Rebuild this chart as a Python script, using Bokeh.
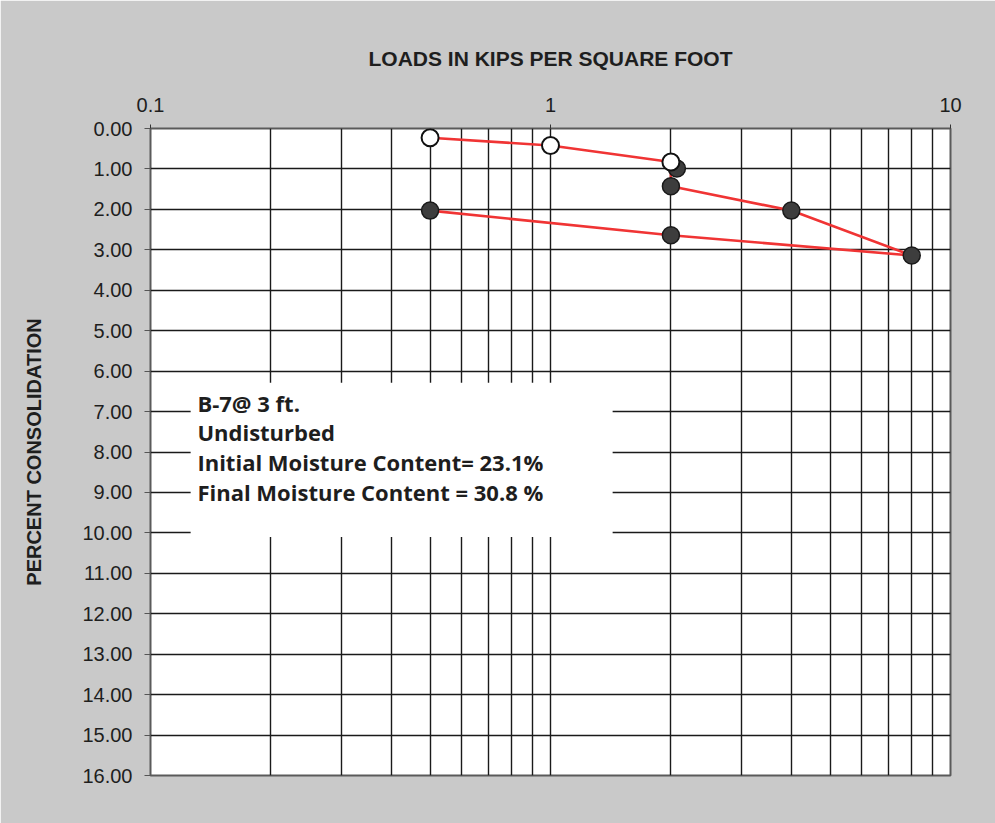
from bokeh.plotting import figure
from bokeh.models import Range1d, FixedTicker, NumeralTickFormatter, BoxAnnotation, Label
from bokeh.embed import file_html
from bokeh.resources import INLINE

# ---- data ----
loads_open = [0.5, 1.0, 2.0]
cons_open = [0.23, 0.42, 0.83]
loads_dark = [2.07, 2.0, 4.0, 8.0, 2.0, 0.5]
cons_dark = [0.99, 1.43, 2.03, 3.14, 2.64, 2.03]
line_loads = loads_open + loads_dark[1:]
line_cons = cons_open + cons_dark[1:]

x_ticks = [0.1, 1, 10]
x_tick_labels = ["0.1", "1", "10"]
x_grid = [0.2, 0.3, 0.4, 0.5, 0.6, 0.7, 0.8, 0.9, 1, 2, 3, 4, 5, 6, 7, 8, 9]
y_ticks = list(range(0, 17))

note_lines = ["B-7@ 3 ft.", "Undisturbed", "Initial Moisture Content= 23.1%", "Final Moisture Content = 30.8 %"]
note_y = [6.78, 7.5, 8.24, 8.99]
note_x = 0.131
box = dict(left=0.126, right=1.43, top=6.29, bottom=10.1)

BG = "#c9c9c9"
TXT = "#1e1e1e"

p = figure(width=995, height=823, x_axis_type="log", x_axis_location="above",
           x_range=Range1d(0.1, 10), y_range=Range1d(16, 0),
           output_backend="svg", toolbar_location=None,
           min_border_left=150, min_border_right=45, min_border_top=128, min_border_bottom=48)
p.background_fill_color = "white"
p.border_fill_color = BG
p.outline_line_color = "#5a5a5a"
p.outline_line_width = 2

# x axis (top)
xa = p.xaxis[0]
xa.ticker = FixedTicker(ticks=x_ticks, minor_ticks=[])
xa.major_label_overrides = {t: l for t, l in zip(x_ticks, x_tick_labels)}
xa.axis_label = "LOADS IN KIPS PER SQUARE FOOT"
xa.axis_label_text_font = "Liberation Sans"
xa.axis_label_text_font_style = "bold"
xa.axis_label_text_font_size = "21px"
xa.axis_label_text_color = TXT
xa.axis_label_standoff = 25
xa.major_label_text_font = "Liberation Sans"
xa.major_label_text_font_size = "20px"
xa.major_label_text_color = TXT
xa.major_label_standoff = 13
xa.major_tick_out = 4
xa.major_tick_in = 0
xa.major_tick_line_color = "#333"
xa.axis_line_color = None

# y axis (left)
ya = p.yaxis[0]
ya.ticker = FixedTicker(ticks=y_ticks, minor_ticks=[])
ya.formatter = NumeralTickFormatter(format="0.00")
ya.axis_label = "PERCENT CONSOLIDATION"
ya.axis_label_text_font = "Liberation Sans"
ya.axis_label_text_font_style = "bold"
ya.axis_label_text_font_size = "20px"
ya.axis_label_text_color = TXT
ya.axis_label_standoff = 34
ya.major_label_text_font = "Liberation Sans"
ya.major_label_text_font_size = "20px"
ya.major_label_text_color = TXT
ya.major_label_standoff = 12
ya.major_tick_out = 6
ya.major_tick_in = 0
ya.major_tick_line_color = "#555"
ya.axis_line_color = None

# grids
p.xgrid.ticker = FixedTicker(ticks=x_grid)
p.xgrid.grid_line_color = "#1a1a1a"
p.xgrid.grid_line_width = 1.4
p.ygrid.grid_line_color = "#1a1a1a"
p.ygrid.grid_line_width = 1.4

# data
p.line(line_loads, line_cons, line_color="#f03434", line_width=2.6)
p.scatter(loads_dark, cons_dark, size=17, fill_color="#3d3d3d", line_color="#1a1a1a", line_width=1.5)
p.scatter(loads_open, cons_open, size=17, fill_color="white", line_color="#111111", line_width=2)

# note box
p.add_layout(BoxAnnotation(left=box["left"], right=box["right"], top=box["top"], bottom=box["bottom"],
                           fill_color="white", fill_alpha=1.0, line_color=None))
for t, yy in zip(note_lines, note_y):
    p.add_layout(Label(x=note_x, y=yy, text=t, text_font="Open Sans", text_font_style="bold",
                       text_font_size="22px", text_color=TXT, text_baseline="middle", text_align="left"))

open("out.html", "w").write(file_html(p, INLINE))
